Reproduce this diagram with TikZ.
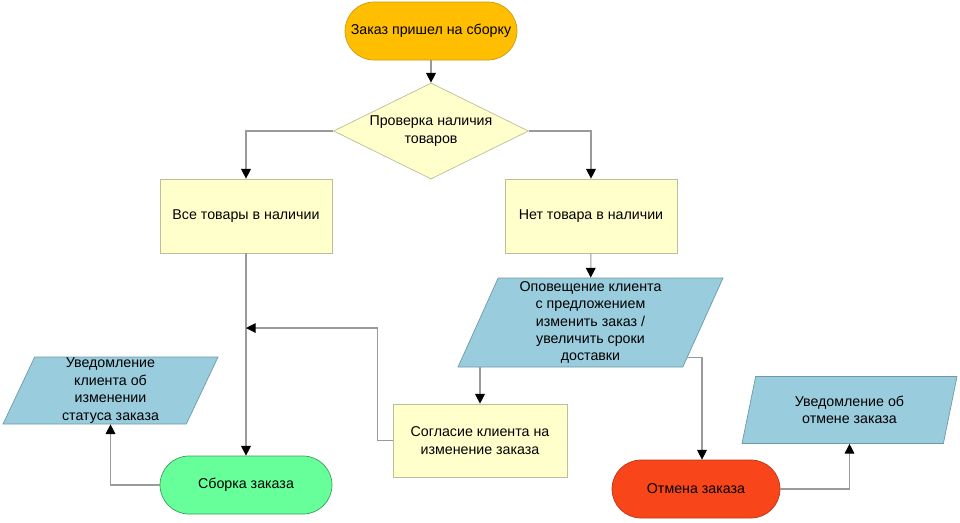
\documentclass[tikz,border=0pt]{standalone}
\usepackage{fontspec}
\setmainfont{Liberation Sans}
\usepackage{tikz}
\usetikzlibrary{calc}
\usetikzlibrary{shapes.geometric}
\usetikzlibrary{arrows.meta}
\definecolor{startfill}{HTML}{FFBF00}
\definecolor{startdraw}{HTML}{C99A10}
\definecolor{greenfill}{HTML}{66FF99}
\definecolor{greendraw}{HTML}{3C9C5C}
\definecolor{redfill}{HTML}{F8461A}
\definecolor{reddraw}{HTML}{B53A1C}
\definecolor{boxfill}{HTML}{FFFFCC}
\definecolor{boxdraw}{HTML}{BDBD9A}
\definecolor{datafill}{HTML}{99CCDD}
\definecolor{datadraw}{HTML}{6E9AA8}
\definecolor{linegray}{HTML}{9A9A9A}
\tikzset{
	termstyle/.style={rectangle,rounded corners=0.58cm,minimum width=3.44cm,minimum height=1.16cm,align=center},
	checkstyle/.style={diamond,aspect=2.03,draw=boxdraw,fill=boxfill,minimum width=3.9cm,minimum height=1.92cm,inner sep=0pt,align=center},
	boxstyle/.style={rectangle,draw=boxdraw,fill=boxfill,minimum width=3.44cm,minimum height=1.48cm,align=center},
	datastyle/.style={trapezium,trapezium left angle=64,trapezium right angle=116,trapezium stretches body=true,draw=datadraw,fill=datafill,inner sep=0pt,align=center},
	flowstyle/.style={draw=linegray,line width=0.6pt,-{Triangle[color=black,length=5.5pt,width=5.5pt]}}
}
\begin{document}
\begin{tikzpicture}
	\fontsize{8.1}{9.9}\selectfont
	\useasboundingbox (0,0) rectangle (19.2,-10.44);
	\node[termstyle,draw=startdraw,fill=startfill] (start) at (8.62,-0.62) {Заказ пришел на сборку};
	\node[checkstyle] (check) at (8.62,-2.62) {Проверка наличия\\товаров};
	\draw[flowstyle] (start)--(check);
	\node[boxstyle] (instock) at (4.92,-4.32) {Все товары в наличии};
	\node[boxstyle] (nostock) at (11.82,-4.32) {Нет товара в наличии};
	\draw[flowstyle] (check.west) -| (instock.north);
	\draw[flowstyle] (check.east) -| (nostock.north);
	\node[datastyle,minimum width=5.3cm,minimum height=1.78cm] (offer) at (11.81,-6.45) {Оповещение клиента\\с предложением\\изменить заказ /\\увеличить сроки\\доставки};
	\draw[flowstyle] (nostock)--(offer);
	\node[termstyle,draw=greendraw,fill=greenfill] (assembly) at (4.92,-9.70) {Сборка заказа};
	\draw[flowstyle] (instock)--(assembly);
	\node[datastyle,minimum width=4.3cm,minimum height=1.34cm] (status) at (2.21,-7.81) {Уведомление\\клиента об\\изменении\\статуса заказа};
	\draw[flowstyle] (assembly.west) -| (status.south);
	\node[boxstyle,minimum width=3.48cm,minimum height=1.46cm] (agree) at (9.60,-8.81) {Согласие клиента на\\изменение заказа};
	\draw[flowstyle] (agree.north |- offer.south)--(agree.north);
	\coordinate (join) at (4.92,-6.56);
	\draw[flowstyle] (agree.west) -- ++(-0.3,0) |- (join);
	\node[termstyle,draw=reddraw,fill=redfill,minimum width=3.36cm] (cancel) at (13.92,-9.78) {Отмена заказа};
	\draw[flowstyle] (offer.-20) -| ([xshift=0.12cm]cancel.north);
	\node[datastyle,minimum width=4.3cm,minimum height=1.34cm] (cancelmsg) at (16.99,-8.2) {Уведомление об\\отмене заказа};
	\draw[flowstyle] (cancel.east) -| (cancelmsg.south);
\end{tikzpicture}
\end{document}
